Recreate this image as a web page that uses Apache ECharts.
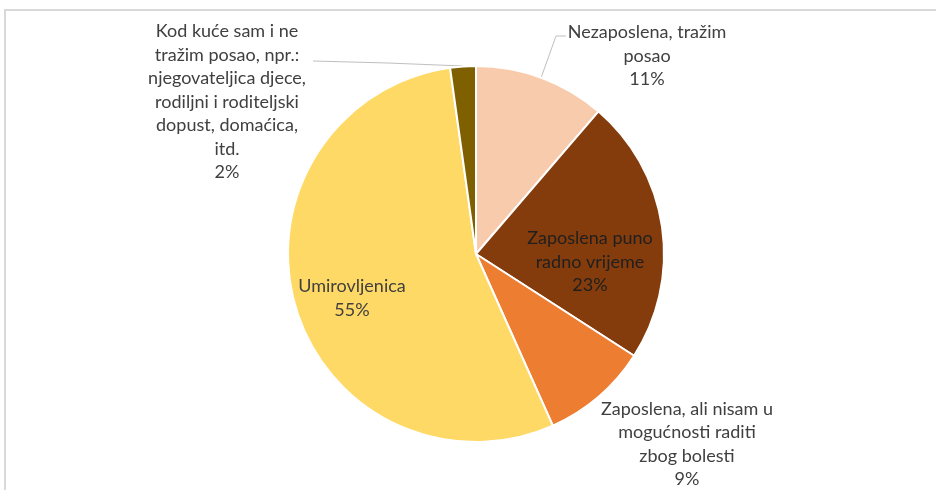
<!DOCTYPE html>
<html>
<head>
<meta charset="utf-8">
<script src="https://cdn.jsdelivr.net/npm/echarts@6/dist/echarts.min.js"></script>
<style>
  html, body { margin: 0; padding: 0; background: #fff; }
  #chart { width: 936px; height: 490px; }
</style>
</head>
<body>
<div id="chart"></div>
<script>
// categories, clockwise from the top
var categories = [
    'Nezaposlena, tražim\nposao',
    'Zaposlena puno\nradno vrijeme',
    'Zaposlena, ali nisam u\nmogućnosti raditi\nzbog bolesti',
    'Umirovljenica',
    'Kod kuće sam i ne\ntražim posao, npr.:\nnjegovateljica djece,\nrodiljni i roditeljski\ndopust, domaćica,\nitd.'
];
var values = [11.3, 22.8, 9.2, 54.5, 2.2];
var colors = ['#F8CBAD', '#843C0C', '#ED7D31', '#FFD966', '#7F6000'];

// label block centres and leader lines (null = no line)
var labelPos = [[647, 56], [590, 262], [687, 444], [352, 298], [227, 102]];
var leaderLines = [
    [[541, 78], [556, 36], [566, 36]],
    null,
    null,
    null,
    [[463, 66], [388, 63], [313, 61]]
];

var pieData = [];
for (var i = 0; i < categories.length; i++) {
    pieData.push({
        name: categories[i],
        value: values[i],
        itemStyle: { color: colors[i] },
        label: { color: i === 1 ? '#1f1f1f' : '#404040' },
        labelLine: { show: leaderLines[i] !== null }
    });
}

var option = {
    animation: false,
    backgroundColor: '#fff',
    graphic: [{
        type: 'rect',
        shape: { x: 5, y: 10, width: 960, height: 500 },
        style: { fill: 'none', stroke: '#d9d9d9', lineWidth: 2 },
        silent: true
    }],
    series: [{
        type: 'pie',
        center: [476, 254],
        radius: 188,
        startAngle: 90,
        clockwise: true,
        avoidLabelOverlap: false,
        itemStyle: { borderColor: '#fff', borderWidth: 2 },
        label: {
            show: true,
            position: 'outside',
            color: '#404040',
            textBorderColor: 'transparent',
            textBorderWidth: 0,
            textShadowBlur: 0,
            fontFamily: 'Lato, "Open Sans", sans-serif',
            fontSize: 18,
            lineHeight: 23.5,
            align: 'center',
            formatter: function (p) {
                return p.name + '\n' + Math.round(p.percent) + '%';
            }
        },
        labelLine: {
            show: true,
            length: 10,
            length2: 10,
            lineStyle: { color: '#bfbfbf', width: 1 }
        },
        labelLayout: function (params) {
            var i = params.dataIndex;
            var res = {
                x: labelPos[i][0],
                y: labelPos[i][1],
                align: 'center',
                verticalAlign: 'middle'
            };
            if (leaderLines[i]) {
                res.labelLinePoints = leaderLines[i];
            }
            return res;
        },
        data: pieData
    }]
};

var myChart = echarts.init(document.getElementById('chart'));
myChart.setOption(option);
</script>
</body>
</html>
